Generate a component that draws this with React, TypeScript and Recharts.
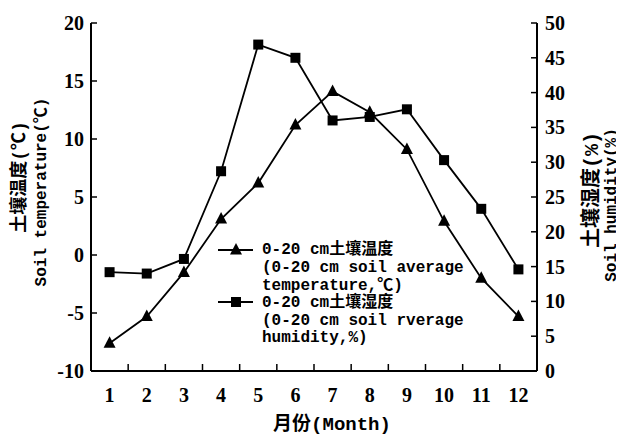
import React from 'react';
import { LineChart, Line, XAxis, YAxis } from 'recharts';

const months = [1, 2, 3, 4, 5, 6, 7, 8, 9, 10, 11, 12];
const soilTemp = [-7.6, -5.3, -1.5, 3.1, 6.2, 11.2, 14.1, 12.3, 9.1, 2.9, -2.0, -5.3];
const soilHumidity = [14.2, 14.0, 16.1, 28.7, 46.9, 45.0, 36.0, 36.5, 37.6, 30.3, 23.3, 14.6];
const tempTicks = [-10, -5, 0, 5, 10, 15, 20];
const humidityTicks = [0, 5, 10, 15, 20, 25, 30, 35, 40, 45, 50];

const data = months.map((m, i) => ({ month: m, temp: soilTemp[i], humidity: soilHumidity[i] }));
// labels sit on whole months, tick marks between them
const monthTicks = months.flatMap((m) => (m < 12 ? [m, m + 0.5] : [m]));

const numFont = '"Liberation Serif", "Times New Roman", serif';
const monoFont = '"Liberation Mono", "Noto Sans CJK SC", monospace';

const Triangle = ({ cx, cy }: { cx: number; cy: number }) => (
  <polygon points={`${cx},${cy - 7} ${cx - 6},${cy + 4.5} ${cx + 6},${cy + 4.5}`} fill="#000" />
);
const Square = ({ cx, cy }: { cx: number; cy: number }) => (
  <rect x={cx - 5} y={cy - 5} width={10} height={10} fill="#000" />
);

const LeftTick = (props: any) => {
  const { x, y, payload } = props;
  return (
    <g>
      <line x1={x} x2={x + 6} y1={y} y2={y} stroke="#000" strokeWidth={1.5} />
      <text x={x - 7} y={y} textAnchor="end" dominantBaseline="central" fontFamily={numFont} fontWeight="bold" fontSize={20} fill="#000">
        {payload.value}
      </text>
    </g>
  );
};

const RightTick = (props: any) => {
  const { x, y, payload } = props;
  return (
    <g>
      <line x1={x} x2={x - 6} y1={y} y2={y} stroke="#000" strokeWidth={1.5} />
      <text x={x + 8} y={y} textAnchor="start" dominantBaseline="central" fontFamily={numFont} fontWeight="bold" fontSize={20} fill="#000">
        {payload.value}
      </text>
    </g>
  );
};

const MonthTick = (props: any) => {
  const { x, y, payload } = props;
  if (!Number.isInteger(payload.value)) {
    return <line x1={x} x2={x} y1={y} y2={y - 7} stroke="#000" strokeWidth={1.5} />;
  }
  return (
    <text x={x} y={y + 24} textAnchor="middle" dominantBaseline="central" fontFamily={numFont} fontWeight="bold" fontSize={20} fill="#000">
      {payload.value}
    </text>
  );
};

const legendLines = [
  '0-20 cm土壤温度',
  '(0-20 cm soil average',
  'temperature,℃)',
  '0-20 cm土壤湿度',
  '(0-20 cm soil rverage',
  'humidity,%)',
];
const legendY = [242, 260, 278, 295, 313, 330];

export default function App() {
  return (
    <div style={{ position: 'relative', width: 616, height: 430 }}>
      <LineChart width={616} height={430} data={data} margin={{ top: 15, right: 47, bottom: 37, left: 43 }}>
        <XAxis
          dataKey="month"
          type="number"
          domain={[0.5, 12.5]}
          ticks={monthTicks}
          interval={0}
          tickLine={false}
          tickSize={0}
          tickMargin={0}
          height={30}
          axisLine={{ stroke: '#000', strokeWidth: 2 }}
          tick={<MonthTick />}
        />
        <YAxis
          yAxisId="left"
          domain={[-10, 20]}
          ticks={tempTicks}
          interval={0}
          width={40}
          tickLine={false}
          tickSize={0}
          tickMargin={0}
          axisLine={{ stroke: '#000', strokeWidth: 2 }}
          tick={<LeftTick />}
        />
        <YAxis
          yAxisId="right"
          orientation="right"
          domain={[0, 50]}
          ticks={humidityTicks}
          interval={0}
          width={40}
          tickLine={false}
          tickSize={0}
          tickMargin={0}
          axisLine={{ stroke: '#000', strokeWidth: 2 }}
          tick={<RightTick />}
        />
        <Line
          yAxisId="left"
          dataKey="temp"
          stroke="#000"
          strokeWidth={1.8}
          isAnimationActive={false}
          dot={(p: any) => <Triangle key={`t-${p.index}`} cx={p.cx} cy={p.cy} />}
        />
        <Line
          yAxisId="right"
          dataKey="humidity"
          stroke="#000"
          strokeWidth={1.8}
          isAnimationActive={false}
          dot={(p: any) => <Square key={`s-${p.index}`} cx={p.cx} cy={p.cy} />}
        />
      </LineChart>
      <svg width={616} height={430} style={{ position: 'absolute', left: 0, top: 0, pointerEvents: 'none' }}>
        <g fontFamily={monoFont} fontWeight="bold" fill="#000">
          <text transform="translate(12,169) rotate(-90)" textAnchor="middle" dominantBaseline="central" fontSize={18}>
            土壤温度(℃)
          </text>
          <text transform="translate(34,184) rotate(-90)" textAnchor="middle" dominantBaseline="central" fontSize={16}>
            Soil temperature(℃)
          </text>
          <text transform="translate(584,182) rotate(-90)" textAnchor="middle" dominantBaseline="central" fontSize={20}>
            土壤湿度(%)
          </text>
          <text transform="translate(604,197) rotate(-90)" textAnchor="middle" dominantBaseline="central" fontSize={16}>
            Soil humidity(%)
          </text>
          <text x={324} y={417} textAnchor="middle" dominantBaseline="central" fontSize={19}>
            月份(Month)
          </text>
          <line x1={210} x2={245} y1={242} y2={242} stroke="#000" strokeWidth={1.8} />
          <Triangle cx={228} cy={242} />
          <line x1={210} x2={245} y1={294} y2={294} stroke="#000" strokeWidth={1.8} />
          <Square cx={228} cy={294} />
          {legendLines.map((t, i) => (
            <text key={t} x={254} y={legendY[i]} dominantBaseline="central" fontSize={16}>
              {t}
            </text>
          ))}
        </g>
      </svg>
    </div>
  );
}
